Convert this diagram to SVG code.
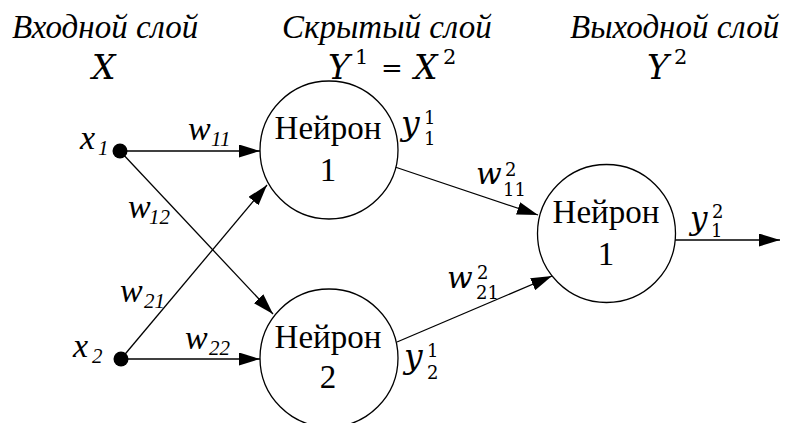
<svg xmlns="http://www.w3.org/2000/svg" width="792" height="423" viewBox="0 0 792 423">
<defs>
<marker id="ah" markerUnits="userSpaceOnUse" markerWidth="21" markerHeight="13" refX="21" refY="6.5" orient="auto">
<path d="M0,0 L21,6.5 L0,13 z" fill="#000"/>
</marker>
</defs>
<rect width="792" height="423" fill="#fff"/>

<g id="headers" fill="#000">
<text x="12" y="38" style="font-family:'Liberation Serif',serif;font-style:italic;font-size:33px">Входной слой</text>
<text x="282" y="38" style="font-family:'Liberation Serif',serif;font-style:italic;font-size:33px">Скрытый слой</text>
<text x="570" y="38" style="font-family:'Liberation Serif',serif;font-style:italic;font-size:33px">Выходной слой</text>
<text x="92" y="79" style="font-family:'DejaVu Serif',serif;font-style:italic;font-size:33px">X</text>
<text x="328" y="79" style="font-family:'DejaVu Serif',serif;font-style:italic;font-size:33px">Y</text>
<text x="355" y="64" style="font-family:'DejaVu Serif',serif;font-size:21px">1</text>
<text x="381" y="77" style="font-family:'DejaVu Serif',serif;font-size:26px">=</text>
<text x="414" y="79" style="font-family:'DejaVu Serif',serif;font-style:italic;font-size:33px">X</text>
<text x="443" y="64" style="font-family:'DejaVu Serif',serif;font-size:21px">2</text>
<text x="647" y="79" style="font-family:'DejaVu Serif',serif;font-style:italic;font-size:33px">Y</text>
<text x="674" y="64" style="font-family:'DejaVu Serif',serif;font-size:21px">2</text>
</g>

<g id="connectors" stroke="#000" stroke-width="1.3" fill="none">
<line x1="120" y1="151" x2="260" y2="151" marker-end="url(#ah)"/>
<line x1="120" y1="151" x2="273" y2="314" marker-end="url(#ah)"/>
<line x1="121" y1="359" x2="267" y2="185" marker-end="url(#ah)"/>
<line x1="121" y1="359" x2="260" y2="359" marker-end="url(#ah)"/>
<line x1="395" y1="167" x2="538" y2="215" marker-end="url(#ah)"/>
<line x1="397" y1="342" x2="552" y2="276" marker-end="url(#ah)"/>
<line x1="675" y1="240" x2="780" y2="240" marker-end="url(#ah)"/>
</g>

<g id="x1">
<circle cx="120" cy="151" r="7.5" fill="#000"/>
<text x="80" y="149" style="font-family:'Liberation Serif',serif;font-style:italic;font-size:34px">x</text>
<text x="98" y="155" style="font-family:'Liberation Serif',serif;font-style:italic;font-size:21px">1</text>
</g>
<g id="x2">
<circle cx="121" cy="359" r="7.5" fill="#000"/>
<text x="73" y="357" style="font-family:'Liberation Serif',serif;font-style:italic;font-size:34px">x</text>
<text x="92" y="363" style="font-family:'Liberation Serif',serif;font-style:italic;font-size:21px">2</text>
</g>

<g id="weights">
<text x="188" y="140" style="font-family:'Liberation Serif',serif;font-style:italic;font-size:34px">w</text>
<text x="211" y="146" style="font-family:'Liberation Serif',serif;font-style:italic;font-size:21px">11</text>
<text x="128" y="218" style="font-family:'Liberation Serif',serif;font-style:italic;font-size:34px">w</text>
<text x="149" y="224" style="font-family:'Liberation Serif',serif;font-style:italic;font-size:21px">12</text>
<text x="120" y="302" style="font-family:'Liberation Serif',serif;font-style:italic;font-size:34px">w</text>
<text x="144" y="308" style="font-family:'Liberation Serif',serif;font-style:italic;font-size:21px">21</text>
<text x="185" y="349" style="font-family:'Liberation Serif',serif;font-style:italic;font-size:34px">w</text>
<text x="209" y="355" style="font-family:'Liberation Serif',serif;font-style:italic;font-size:21px">22</text>
<text x="476" y="184" style="font-family:'DejaVu Serif',serif;font-style:italic;font-size:30px">w</text>
<text x="505" y="176" style="font-family:'DejaVu Serif',serif;font-size:18px">2</text>
<text x="503" y="196" style="font-family:'DejaVu Serif',serif;font-size:18px">11</text>
<text x="447" y="288" style="font-family:'DejaVu Serif',serif;font-style:italic;font-size:30px">w</text>
<text x="477" y="279" style="font-family:'DejaVu Serif',serif;font-size:18px">2</text>
<text x="476" y="299" style="font-family:'DejaVu Serif',serif;font-size:18px">21</text>
</g>

<g id="outputs">
<text x="401" y="135" style="font-family:'DejaVu Serif',serif;font-style:italic;font-size:33px">y</text>
<text x="424" y="124" style="font-family:'DejaVu Serif',serif;font-size:18px">1</text>
<text x="424" y="145" style="font-family:'DejaVu Serif',serif;font-size:18px">1</text>
<text x="404" y="368" style="font-family:'DejaVu Serif',serif;font-style:italic;font-size:33px">y</text>
<text x="427" y="357" style="font-family:'DejaVu Serif',serif;font-size:18px">1</text>
<text x="427" y="379" style="font-family:'DejaVu Serif',serif;font-size:18px">2</text>
<text x="690" y="229" style="font-family:'DejaVu Serif',serif;font-style:italic;font-size:31px">y</text>
<text x="712" y="218" style="font-family:'DejaVu Serif',serif;font-size:18px">2</text>
<text x="711" y="237" style="font-family:'DejaVu Serif',serif;font-size:18px">1</text>
</g>

<g id="neuron-h1">
<circle cx="329" cy="150" r="69" fill="#fff" stroke="#000" stroke-width="1.3"/>
<text x="328" y="139" text-anchor="middle" style="font-family:'Liberation Serif',serif;font-size:33px">Нейрон</text>
<text x="328" y="181" text-anchor="middle" style="font-family:'Liberation Serif',serif;font-size:33px">1</text>
</g>
<g id="neuron-h2">
<circle cx="329" cy="358" r="69" fill="#fff" stroke="#000" stroke-width="1.3"/>
<text x="328" y="348" text-anchor="middle" style="font-family:'Liberation Serif',serif;font-size:33px">Нейрон</text>
<text x="328" y="388" text-anchor="middle" style="font-family:'Liberation Serif',serif;font-size:33px">2</text>
</g>
<g id="neuron-out">
<circle cx="606.5" cy="233.5" r="69" fill="#fff" stroke="#000" stroke-width="1.3"/>
<text x="606" y="223" text-anchor="middle" style="font-family:'Liberation Serif',serif;font-size:33px">Нейрон</text>
<text x="606" y="265" text-anchor="middle" style="font-family:'Liberation Serif',serif;font-size:33px">1</text>
</g>
</svg>
